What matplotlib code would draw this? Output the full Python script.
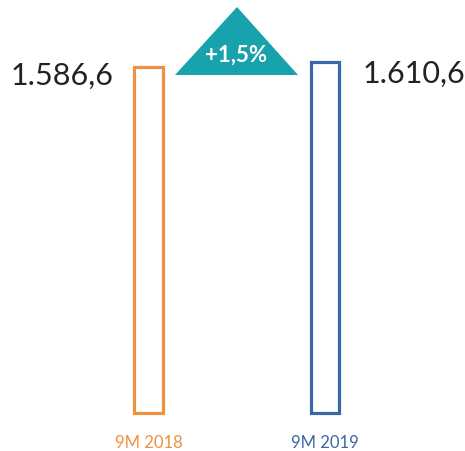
import matplotlib.pyplot as plt
from matplotlib.patches import Polygon
import matplotlib.transforms as mtransforms

# data
periods = ['9M 2018', '9M 2019']
values = [1586.6, 1610.6]
value_labels = ['1.586,6', '1.610,6']
change_label = '+1,5%'
colors = ['#EF9140', '#3A68A6']
teal = '#17A2AC'

plt.rcParams['font.family'] = ['Lato', 'DejaVu Sans']

W, H = 465, 452
fig = plt.figure(figsize=(W / 100, H / 100), dpi=100)
ax = fig.add_axes([0, 0, 1, 1])

x = list(range(len(values)))
ax.bar(x, values, width=0.159, facecolor='white', edgecolor=colors,
       linewidth=2.3)

# pixel layout: centers at 148.5 and 325 px, baseline 415 px from top
px_per_x = 176.5
ax.set_xlim(-148.5 / px_per_x, (W - 148.5) / px_per_x)
s = 351 / max(values)
ax.set_ylim(-38.5 / s, (H - 38.5) / s)
ax.axis('off')

# value labels
ax.annotate(value_labels[0], (x[0], values[0]), xytext=(-25, -6),
            textcoords='offset points', ha='right', va='center',
            fontsize=22, color='#222222')
ax.annotate(value_labels[1], (x[1], values[1]), xytext=(27, -8),
            textcoords='offset points', ha='left', va='center',
            fontsize=22, color='#222222')

# category labels
trans = mtransforms.blended_transform_factory(ax.transData, ax.transAxes)
for xi, lab, c in zip(x, periods, colors):
    ax.text(xi, 9 / H, lab, transform=trans, ha='center', va='center',
            fontsize=12, color=c)

# change triangle
tri = Polygon([(175 / W, 1 - 76 / H), (237 / W, 1 - 8 / H), (298 / W, 1 - 76 / H)],
              closed=True, transform=ax.transAxes, facecolor=teal,
              edgecolor='none')
ax.add_patch(tri)
ax.text(236 / W, 1 - 55 / H, change_label, transform=ax.transAxes,
        ha='center', va='center', fontsize=16, fontweight='bold',
        color='white')

fig.savefig('out.png', dpi=100)
